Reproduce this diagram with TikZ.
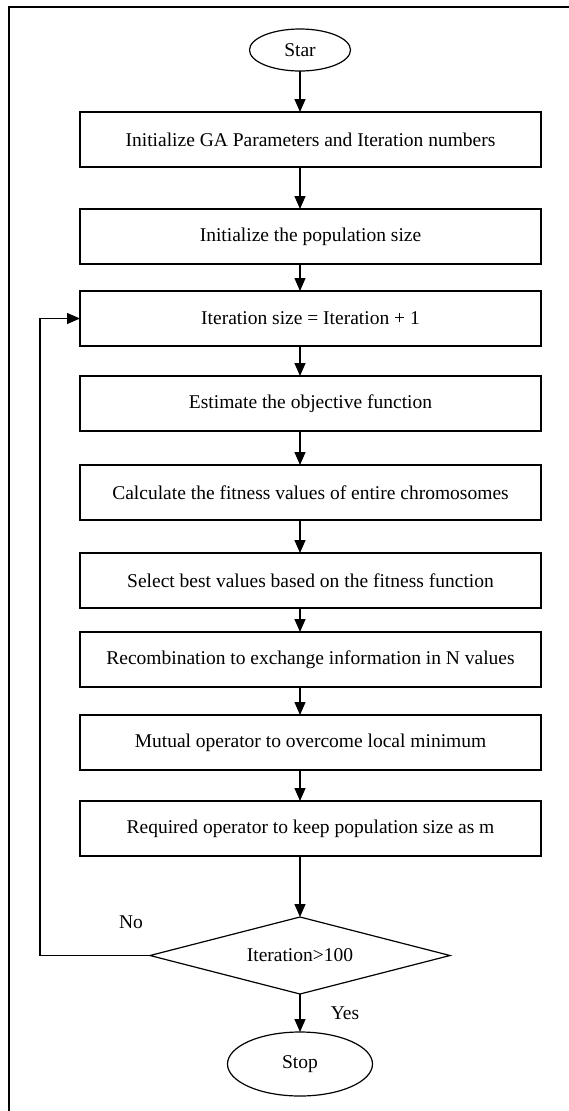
\documentclass[tikz,border=0pt]{standalone}
\usepackage{fontspec}
\setmainfont{Liberation Serif}
\usetikzlibrary{shapes.geometric, positioning, arrows.meta}
\tikzset{
>={Triangle[length=13pt, width=11pt]}, % solid triangle heads
process/.style={draw, rectangle, outer sep=0pt, minimum width=461pt, minimum height=55pt}, % the step boxes
terminal/.style={draw, ellipse, outer sep=0pt, inner sep=1pt}, % start and stop
decision/.style={draw, diamond, aspect=3.9, outer sep=0pt, inner sep=0pt,
    minimum width=300pt, minimum height=77pt}, % the test
}

\begin{document}
\begin{tikzpicture}[x=1pt, y=-1pt, line width=1.2pt, font=\fontsize{19.5}{22}\selectfont]
\useasboundingbox (0,0) rectangle (569,1111);
\draw (9,1111) -- (9,7) -- (569,7); % frame

\node[terminal, minimum width=101pt, minimum height=42pt] (start) at (300,50) {Star};
\node[process, below=41pt of start, xshift=10.5pt] (init) {Initialize GA Parameters and Iteration numbers};
\node[process, below=42pt of init] (popsize) {Initialize the population size};
\node[process, below=27pt of popsize] (iter) {Iteration size = Iteration + 1};
\node[process, below=30pt of iter] (objective) {Estimate the objective function};
\node[process, below=34pt of objective] (fitness) {Calculate the fitness values of entire chromosomes};
\node[process, below=33pt of fitness] (select) {Select best values based on the fitness function};
\node[process, below=24pt of select] (recomb) {Recombination to exchange information in N values};
\node[process, below=28pt of recomb] (mutual) {Mutual operator to overcome local minimum};
\node[process, below=31pt of mutual] (required) {Required operator to keep population size as m};
\node[decision, below=61pt of required, xshift=-10.5pt] (check) {Iteration>100};
\node[terminal, minimum width=145pt, minimum height=64pt, below=38pt of check] (stop) {Stop};
\coordinate (back) at ([xshift=-110pt]check.west);

\node (no) at (131,922) {No};
\node (yes) at (345,1013) {Yes};

\draw[->] (start.south) -- (start |- init.north);
\foreach \a/\b in {init/popsize, popsize/iter, iter/objective, objective/fitness,
    fitness/select, select/recomb, recomb/mutual, mutual/required}
    \draw[->] (\a.south -| start) -- (\b.north -| start);
\draw[->] (required.south -| check) -- (check.north);
\draw[->] (check.south) -- (stop.north);
\draw[->] (check.west) -- (back) |- (iter.west);
\end{tikzpicture}
\end{document}
